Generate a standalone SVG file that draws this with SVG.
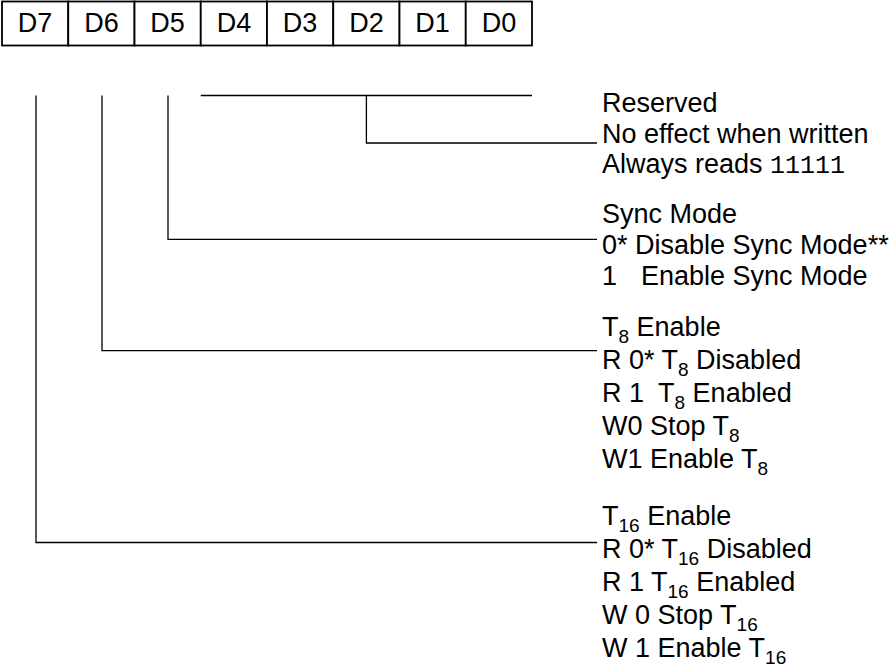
<svg xmlns="http://www.w3.org/2000/svg" width="892" height="670" viewBox="0 0 892 670">
<style>
  text { font-family: "Liberation Sans", Arial, sans-serif; font-size: 27px; fill: #000; }
  .cell { fill: #fff; stroke: #000; stroke-width: 1.8; }
  .cellt { text-anchor: middle; }
  .sub { font-size: 19px; }
  .mono { font-family: "Liberation Mono", "Courier New", monospace; font-size: 25px; }
  .conn { fill: none; stroke: #000; stroke-width: 1.3; }
</style>
<rect width="892" height="670" fill="#fff"/>
<g id="register">
  <g id="bit-D7"><rect class="cell" x="2" y="1.5" width="66.25" height="44"/><text class="cellt" x="35.1" y="32">D7</text></g>
  <g id="bit-D6"><rect class="cell" x="68.25" y="1.5" width="66.25" height="44"/><text class="cellt" x="101.4" y="32">D6</text></g>
  <g id="bit-D5"><rect class="cell" x="134.5" y="1.5" width="66.25" height="44"/><text class="cellt" x="167.6" y="32">D5</text></g>
  <g id="bit-D4"><rect class="cell" x="200.75" y="1.5" width="66.25" height="44"/><text class="cellt" x="233.9" y="32">D4</text></g>
  <g id="bit-D3"><rect class="cell" x="267" y="1.5" width="66.25" height="44"/><text class="cellt" x="300.1" y="32">D3</text></g>
  <g id="bit-D2"><rect class="cell" x="333.25" y="1.5" width="66.25" height="44"/><text class="cellt" x="366.4" y="32">D2</text></g>
  <g id="bit-D1"><rect class="cell" x="399.5" y="1.5" width="66.25" height="44"/><text class="cellt" x="432.6" y="32">D1</text></g>
  <g id="bit-D0"><rect class="cell" x="465.75" y="1.5" width="66.25" height="44"/><text class="cellt" x="498.9" y="32">D0</text></g>
</g>
<g id="connectors">
  <path class="conn" d="M200.75 95.5 H532"/>
  <path class="conn" d="M366.4 95.5 V143 H597"/>
  <path class="conn" d="M168 95.5 V239.3 H597"/>
  <path class="conn" d="M102 95.5 V350.7 H597"/>
  <path class="conn" d="M36 95.5 V542.5 H597"/>
</g>
<g id="field-reserved">
  <text x="602" y="112">Reserved</text>
  <text x="602" y="142.5">No effect when written</text>
  <text x="602" y="173">Always reads <tspan class="mono">11111</tspan></text>
</g>
<g id="field-sync">
  <text x="602" y="223">Sync Mode</text>
  <text x="602" y="254">0* Disable Sync Mode**</text>
  <text x="602" y="285">1<tspan x="641">Enable Sync Mode</tspan></text>
</g>
<g id="field-t8">
  <text x="602" y="336">T<tspan class="sub" dy="7">8</tspan><tspan dy="-7"> Enable</tspan></text>
  <text x="602" y="369">R 0* T<tspan class="sub" dy="7">8</tspan><tspan dy="-7"> Disabled</tspan></text>
  <text x="602" y="402">R 1 <tspan dx="7">T</tspan><tspan class="sub" dy="7">8</tspan><tspan dy="-7"> Enabled</tspan></text>
  <text x="602" y="435">W0 Stop T<tspan class="sub" dy="7">8</tspan></text>
  <text x="602" y="468">W1 Enable T<tspan class="sub" dy="7">8</tspan></text>
</g>
<g id="field-t16">
  <text x="602" y="525">T<tspan class="sub" dy="7">16</tspan><tspan dy="-7"> Enable</tspan></text>
  <text x="602" y="558">R 0* T<tspan class="sub" dy="7">16</tspan><tspan dy="-7"> Disabled</tspan></text>
  <text x="602" y="591">R 1 T<tspan class="sub" dy="7">16</tspan><tspan dy="-7"> Enabled</tspan></text>
  <text x="602" y="624">W 0 Stop T<tspan class="sub" dy="7">16</tspan></text>
  <text x="602" y="657">W 1 Enable T<tspan class="sub" dy="7">16</tspan></text>
</g>
</svg>
